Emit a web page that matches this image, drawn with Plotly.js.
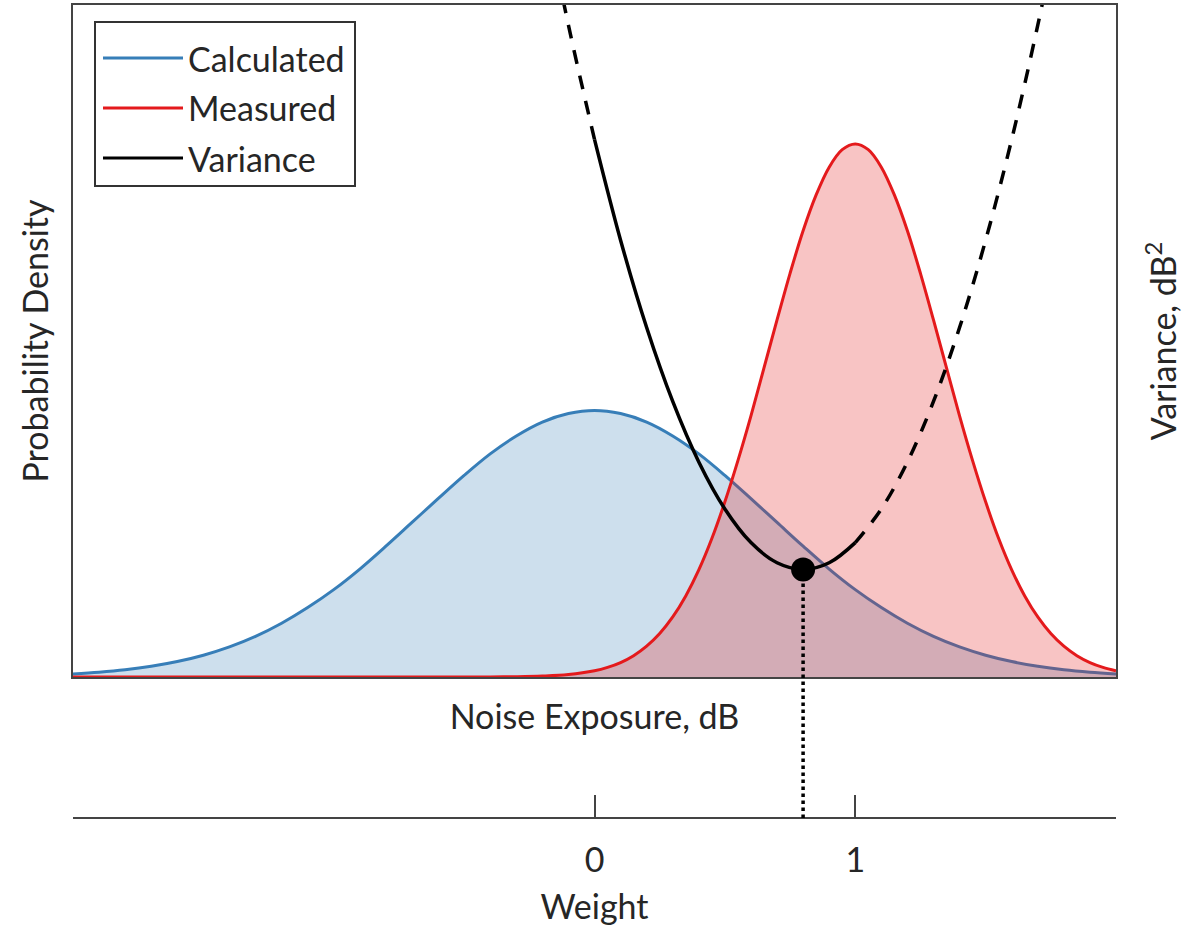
<!DOCTYPE html>
<html>
<head>
<meta charset="utf-8">
<script src="https://cdn.plot.ly/plotly-3.0.1.min.js"></script>
<style>html,body{margin:0;padding:0;background:#fff;}#chart{width:1198px;height:928px;}</style>
</head>
<body>
<div id="chart"></div>
<script>
// ---- data ----
const seriesNames = ['Calculated', 'Measured', 'Variance'];
const noiseExposure = [-2.0,-1.9,-1.8,-1.7,-1.6,-1.5,-1.4,-1.3,-1.2,-1.1,-1.0,-0.9,-0.8,-0.7,-0.6,-0.5,-0.4,-0.3,-0.2,-0.1,
  0.0,0.1,0.2,0.3,0.4,0.5,0.6,0.7,0.8,0.9,1.0,1.1,1.2,1.3,1.4,1.5,1.6,1.7,1.8,1.9,2.0];
const calculatedDensity = [0.0069,0.0107,0.0161,0.0238,0.0344,0.0486,0.0671,0.0906,0.120,0.155,0.195,0.241,0.292,0.345,0.398,0.450,0.498,0.538,0.569,0.588,
  0.595,0.588,0.569,0.538,0.498,0.450,0.398,0.345,0.292,0.241,0.195,0.155,0.120,0.0906,0.0671,0.0486,0.0344,0.0238,0.0161,0.0107,0.0069];
const measuredExposure = [-2.0,-1.5,-1.0,-0.5,-0.4,-0.3,-0.2,-0.1,
  0.0,0.05,0.1,0.15,0.2,0.25,0.3,0.35,0.4,0.45,0.5,0.55,0.6,0.65,0.7,0.75,0.8,0.85,0.9,0.95,
  1.0,1.05,1.1,1.15,1.2,1.25,1.3,1.35,1.4,1.45,1.5,1.55,1.6,1.65,1.7,1.75,1.8,1.85,1.9,1.95,2.0];
const measuredDensity = [0,0,0,0,0.0002,0.0006,0.0020,0.0054,
  0.0138,0.0214,0.0322,0.0476,0.0688,0.0971,0.134,0.181,0.239,0.309,0.391,0.483,0.583,0.690,0.797,0.901,0.996,1.076,1.138,1.177,
  1.190,1.177,1.138,1.076,0.996,0.901,0.797,0.690,0.583,0.483,0.391,0.309,0.239,0.181,0.134,0.0971,0.0688,0.0476,0.0322,0.0214,0.0138];
const weight = [-0.2,-0.1,0.0,0.1,0.2,0.3,0.4,0.5,0.6,0.7,0.8,0.9,1.0,1.1,1.2,1.3,1.4,1.5,1.6,1.7,1.8];
const variance = [11.6,9.7,8.0,6.5,5.2,4.1,3.2,2.5,2.0,1.7,1.6,1.7,2.0,2.5,3.2,4.1,5.2,6.5,8.0,9.7,11.6];
const weightTickVals = [0, 1];
const weightTickText = ['0', '1'];

// ---- layout geometry ----
const FIG_W = 1198, FIG_H = 928;
const M = {l: 73, r: 82, t: 5, b: 110};
const paperH = FIG_H - M.t - M.b;
const paperW = FIG_W - M.l - M.r;
const plotBottomPx = 677;
const yDomain0 = (FIG_H - M.b - plotBottomPx) / paperH;
const yRange = [0, 1.5];
const y2Range = [0, 10];
const xRange = [-2, 2];
const px = x => (x - M.l) / paperW;
const py = y => (FIG_H - M.b - y) / paperH;

const FONT = 'Lato, "Open Sans", sans-serif';
const FS = 34;
const TXT = '#262626';
const BLUE = 'rgb(55,126,184)';
const RED = 'rgb(228,26,28)';
const FRAME = '#444444';

// variance segments
const seg = (lo, hi) => {
  const xs = [], ys = [];
  weight.forEach((w, i) => { if (w >= lo - 1e-9 && w <= hi + 1e-9) { xs.push(w); ys.push(variance[i]); } });
  return {xs, ys};
};
const left = seg(-Infinity, 0), mid = seg(0, 1), right = seg(1, Infinity);
let iMin = 0;
variance.forEach((v, i) => { if (v < variance[iMin]) iMin = i; });
const optWeight = weight[iMin], minVar = variance[iMin];
const markerPaperY = yDomain0 + (minVar - y2Range[0]) / (y2Range[1] - y2Range[0]) * (1 - yDomain0);

const traces = [
  {x: noiseExposure, y: calculatedDensity, type: 'scatter', mode: 'lines', name: seriesNames[0],
   line: {color: BLUE, width: 3, shape: 'spline'}, fill: 'tozeroy', fillcolor: 'rgba(55,126,184,0.25)', showlegend: false},
  {x: measuredExposure, y: measuredDensity, type: 'scatter', mode: 'lines', name: seriesNames[1],
   line: {color: RED, width: 3, shape: 'spline'}, fill: 'tozeroy', fillcolor: 'rgba(228,26,28,0.26)', showlegend: false},
  {x: left.xs, y: left.ys, xaxis: 'x2', yaxis: 'y2', type: 'scatter', mode: 'lines', name: seriesNames[2],
   line: {color: '#000', width: 3.5, shape: 'spline', dash: '14px,12px'}, showlegend: false},
  {x: mid.xs, y: mid.ys, xaxis: 'x2', yaxis: 'y2', type: 'scatter', mode: 'lines', name: seriesNames[2],
   line: {color: '#000', width: 3.5, shape: 'spline'}, showlegend: false},
  {x: right.xs, y: right.ys, xaxis: 'x2', yaxis: 'y2', type: 'scatter', mode: 'lines', name: seriesNames[2],
   line: {color: '#000', width: 3.5, shape: 'spline', dash: '14px,12px'}, showlegend: false},
  {x: [optWeight], y: [minVar], xaxis: 'x2', yaxis: 'y2', type: 'scatter', mode: 'markers', name: 'Minimum',
   marker: {color: '#000', size: 24}, showlegend: false, cliponaxis: false}
];

// manual legend (long line samples as in the reference)
const legColors = [BLUE, RED, '#000'];
const legY = [58, 108, 158];
const shapes = [
  {type: 'rect', xref: 'paper', yref: 'paper', x0: px(95), x1: px(355), y0: py(186), y1: py(22),
   line: {color: '#333', width: 2}, fillcolor: '#fff', layer: 'above'},
  {type: 'line', xref: 'x2', yref: 'paper', x0: optWeight, x1: optWeight, y0: 0, y1: markerPaperY,
   line: {color: '#000', width: 3.5, dash: 'dot'}, layer: 'above'}
];
const annotations = [];
seriesNames.forEach((n, i) => {
  shapes.push({type: 'line', xref: 'paper', yref: 'paper', x0: px(103), x1: px(183), y0: py(legY[i]), y1: py(legY[i]),
    line: {color: legColors[i], width: 3}, layer: 'above'});
  annotations.push({xref: 'paper', yref: 'paper', x: px(186), y: py(legY[i]), xanchor: 'left', yanchor: 'middle',
    text: n, showarrow: false, font: {family: FONT, size: FS, color: TXT}});
});

const layout = {
  width: FIG_W, height: FIG_H,
  margin: M,
  paper_bgcolor: '#fff', plot_bgcolor: '#fff',
  font: {family: FONT, size: FS, color: TXT},
  showlegend: false,
  xaxis: {range: xRange, showline: true, mirror: true, linecolor: FRAME, linewidth: 2,
    showticklabels: false, ticks: '', showgrid: false, zeroline: false,
    title: {text: 'Noise Exposure, dB', font: {size: FS, color: TXT}, standoff: 27}},
  yaxis: {range: yRange, domain: [yDomain0, 1], showline: true, mirror: true, linecolor: FRAME, linewidth: 2,
    showticklabels: false, ticks: '', showgrid: false, zeroline: false,
    title: {text: 'Probability Density', font: {size: FS, color: TXT}, standoff: 12}},
  yaxis2: {range: y2Range, overlaying: 'y', side: 'right', showline: false, showticklabels: false, ticks: '',
    showgrid: false, zeroline: false,
    title: {text: 'Variance, dB<sup>2</sup>', font: {size: FS, color: TXT}, standoff: 36}},
  xaxis2: {range: xRange, overlaying: 'x', anchor: 'free', position: 0, side: 'bottom',
    showline: true, linecolor: FRAME, linewidth: 2, ticks: 'inside', ticklen: 22, tickwidth: 2, tickcolor: FRAME,
    tickvals: weightTickVals, ticktext: weightTickText, tickfont: {size: FS, color: TXT}, ticklabelstandoff: 12,
    showgrid: false, zeroline: false,
    title: {text: 'Weight', font: {size: FS, color: TXT}, standoff: 16}},
  shapes: shapes,
  annotations: annotations
};

Plotly.newPlot('chart', traces, layout, {staticPlot: true, displayModeBar: false});
</script>
</body>
</html>
